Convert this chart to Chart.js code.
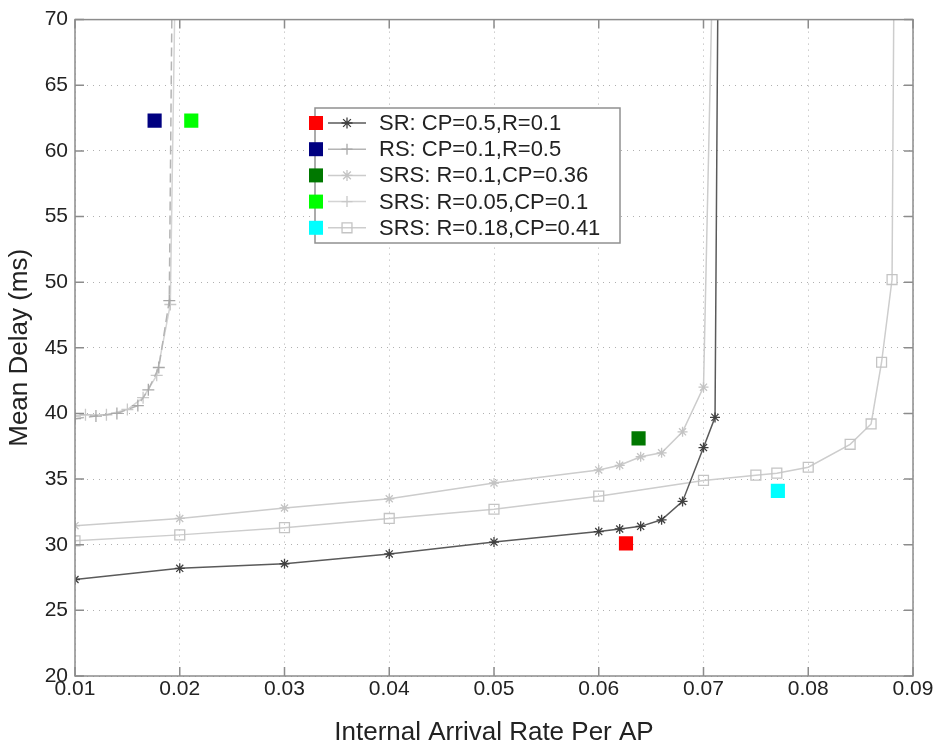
<!DOCTYPE html>
<html>
<head>
<meta charset="utf-8">
<script src="https://cdn.jsdelivr.net/npm/chart.js@4"></script>
<style>
  html, body { margin: 0; padding: 0; background: #fff; }
</style>
</head>
<body>
<canvas id="myChart" width="937" height="747"></canvas>
<script>
// axis ticks
const xTicks = [0.01, 0.02, 0.03, 0.04, 0.05, 0.06, 0.07, 0.08, 0.09];
const yTicks = [20, 25, 30, 35, 40, 45, 50, 55, 60, 65, 70];

// SR: CP=0.5,R=0.1  (asterisk, dark)
const srX = [0.01, 0.02, 0.03, 0.04, 0.05, 0.06, 0.062, 0.064, 0.066, 0.068, 0.07, 0.0711, 0.0714];
const srY = [27.35, 28.2, 28.55, 29.3, 30.2, 31.0, 31.2, 31.4, 31.9, 33.3, 37.4, 39.7, 75];

// RS: CP=0.1,R=0.5  (plus, dashed)
const rsX = [0.01, 0.012, 0.014, 0.016, 0.017, 0.018, 0.019, 0.0193];
const rsY = [39.6, 39.8, 40.0, 40.6, 41.8, 43.5, 48.6, 75];

// SRS: R=0.1,CP=0.36  (asterisk, light)
const srs1X = [0.01, 0.02, 0.03, 0.04, 0.05, 0.06, 0.062, 0.064, 0.066, 0.068, 0.07, 0.0709];
const srs1Y = [31.45, 32.0, 32.8, 33.5, 34.7, 35.7, 36.05, 36.7, 37.0, 38.6, 42.0, 75];

// SRS: R=0.05,CP=0.1  (plus, light)
const srs2X = [0.01, 0.011, 0.013, 0.015, 0.0165, 0.0178, 0.0191, 0.0196];
const srs2Y = [39.8, 39.9, 39.9, 40.3, 41.2, 42.9, 48.3, 75];

// SRS: R=0.18,CP=0.41  (square, light)
const srs3X = [0.01, 0.02, 0.03, 0.04, 0.05, 0.06, 0.07, 0.075, 0.077, 0.08, 0.084, 0.086, 0.087, 0.088, 0.0882];
const srs3Y = [30.3, 30.75, 31.3, 32.0, 32.7, 33.7, 34.9, 35.3, 35.45, 35.9, 37.65, 39.2, 43.9, 50.2, 75];

// single coloured squares
const squareX = [0.0626, 0.0176, 0.0638, 0.0211, 0.0771];
const squareY = [30.1, 62.3, 38.1, 62.3, 34.1];
const squareColors = ["#ff0000", "#000080", "#007800", "#00ff00", "#00ffff"];

const legendNames = [
  "SR: CP=0.5,R=0.1",
  "RS: CP=0.1,R=0.5",
  "SRS: R=0.1,CP=0.36",
  "SRS: R=0.05,CP=0.1",
  "SRS: R=0.18,CP=0.41"
];

const pts = (xs, ys) => xs.map((x, i) => ({ x: x, y: ys[i] }));

const curves = [
  { data: pts(srX, srY), borderColor: "#5a5a5a", pointBorderColor: "#404040", pointStyle: "star", pointRadius: 5, borderWidth: 1.5 },
  { data: pts(rsX, rsY), borderColor: "#b4b4b4", pointBorderColor: "#a8a8a8", pointStyle: "cross", pointRadius: 6, borderDash: [9, 5], borderWidth: 1.5 },
  { data: pts(srs1X, srs1Y), borderColor: "#cccccc", pointBorderColor: "#c4c4c4", pointStyle: "star", pointRadius: 5, borderWidth: 1.5 },
  { data: pts(srs2X, srs2Y), borderColor: "#d4d4d4", pointBorderColor: "#c8c8c8", pointStyle: "cross", pointRadius: 6, borderWidth: 1.5 },
  { data: pts(srs3X, srs3Y), borderColor: "#cdcdcd", pointBorderColor: "#c4c4c4", pointStyle: "rect", pointRadius: 7, borderWidth: 1.5 }
];

const datasets = [];
curves.forEach((c, i) => {
  datasets.push({
    label: legendNames[i],
    data: c.data,
    showLine: true,
    borderColor: c.borderColor,
    borderWidth: c.borderWidth,
    borderDash: c.borderDash || [],
    pointStyle: c.pointStyle,
    pointRadius: c.data.map((p) => (p.y > 70 ? 0 : c.pointRadius)),
    pointBorderColor: c.pointBorderColor,
    pointBackgroundColor: "rgba(0,0,0,0)",
    pointBorderWidth: 1.3,
    tension: 0
  });
});
squareX.forEach((x, i) => {
  datasets.push({
    label: "sq" + i,
    data: [{ x: x, y: squareY[i] }],
    showLine: false,
    pointStyle: "rect",
    pointRadius: 10,
    pointBackgroundColor: squareColors[i],
    pointBorderColor: squareColors[i],
    pointBorderWidth: 0
  });
});

// box round the plot and inward tick marks on all four sides
const frame = {
  id: "frame",
  afterDatasetsDraw(chart) {
    const { ctx, chartArea: a, scales } = chart;
    ctx.save();
    ctx.strokeStyle = "#8c8c8c";
    ctx.lineWidth = 1.5;
    ctx.setLineDash([]);
    ctx.strokeRect(a.left, a.top, a.right - a.left, a.bottom - a.top);
    const len = 9;
    ctx.beginPath();
    xTicks.forEach((v) => {
      const px = scales.x.getPixelForValue(v);
      ctx.moveTo(px, a.bottom); ctx.lineTo(px, a.bottom - len);
      ctx.moveTo(px, a.top); ctx.lineTo(px, a.top + len);
    });
    yTicks.forEach((v) => {
      const py = scales.y.getPixelForValue(v);
      ctx.moveTo(a.left, py); ctx.lineTo(a.left + len, py);
      ctx.moveTo(a.right, py); ctx.lineTo(a.right - len, py);
    });
    ctx.stroke();
    ctx.restore();
  }
};

function marker(ctx, style, x, y, r) {
  ctx.beginPath();
  if (style === "star" || style === "cross") {
    ctx.moveTo(x - r, y); ctx.lineTo(x + r, y);
    ctx.moveTo(x, y - r); ctx.lineTo(x, y + r);
  }
  if (style === "star") {
    const d = r * 0.707;
    ctx.moveTo(x - d, y - d); ctx.lineTo(x + d, y + d);
    ctx.moveTo(x - d, y + d); ctx.lineTo(x + d, y - d);
  }
  if (style === "rect") {
    const s = r * 0.707;
    ctx.rect(x - s, y - s, 2 * s, 2 * s);
  }
  ctx.stroke();
}

// legend: coloured square + line sample + text
const boxLegend = {
  id: "boxLegend",
  afterDraw(chart) {
    const ctx = chart.ctx;
    const left = 315, top = 108, right = 620, bottom = 243;
    const rowY = 123, rowH = 26.2;
    ctx.save();
    ctx.fillStyle = "#fff";
    ctx.fillRect(left, top, right - left, bottom - top);
    ctx.strokeStyle = "#909090";
    ctx.lineWidth = 1.5;
    ctx.strokeRect(left, top, right - left, bottom - top);
    ctx.font = "22px 'Liberation Sans', Arial, sans-serif";
    ctx.textBaseline = "middle";
    legendNames.forEach((name, i) => {
      const y = rowY + i * rowH;
      const ds = chart.data.datasets[i];
      ctx.fillStyle = squareColors[i];
      ctx.fillRect(309, y - 7, 14, 14);
      ctx.strokeStyle = ds.borderColor;
      ctx.lineWidth = 1.5;
      ctx.setLineDash([]);
      ctx.beginPath();
      ctx.moveTo(328, y); ctx.lineTo(366, y);
      ctx.stroke();
      ctx.strokeStyle = ds.pointBorderColor;
      ctx.lineWidth = 1.3;
      marker(ctx, ds.pointStyle, 347, y, ds.pointStyle === "rect" ? 7 : 5.5);
      ctx.fillStyle = "#222";
      ctx.fillText(name, 379, y + 1);
    });
    ctx.restore();
  }
};

const ctx = document.querySelector("#myChart").getContext("2d");

new Chart(ctx, {
  type: "scatter",
  data: { datasets: datasets },
  plugins: [frame, boxLegend],
  options: {
    responsive: false,
    animation: false,
    devicePixelRatio: 1,
    layout: { padding: { left: 0, top: 16, right: 24, bottom: 0 } },
    plugins: {
      legend: { display: false },
      tooltip: { enabled: false }
    },
    scales: {
      x: {
        type: "linear",
        min: 0.01,
        max: 0.09,
        afterBuildTicks: (scale) => { scale.ticks = xTicks.map((v) => ({ value: v })); },
        afterFit: (scale) => { scale.height = 71; },
        ticks: {
          callback: (v) => v.toFixed(2),
          font: { family: "'Liberation Sans', Arial, sans-serif", size: 21 },
          color: "#222",
          padding: 1,
          maxRotation: 0
        },
        grid: { color: "#b0b0b0", lineWidth: 1, drawTicks: false },
        border: { display: false, dash: [1, 5] },
        title: {
          display: true,
          text: "Internal Arrival Rate Per AP",
          font: { family: "'Liberation Sans', Arial, sans-serif", size: 26, lineHeight: 1 },
          color: "#222",
          padding: { top: 0, bottom: 1 }
        }
      },
      y: {
        type: "linear",
        min: 20,
        max: 70,
        afterBuildTicks: (scale) => { scale.ticks = yTicks.map((v) => ({ value: v })); },
        afterFit: (scale) => { scale.width = 75; },
        ticks: {
          font: { family: "'Liberation Sans', Arial, sans-serif", size: 21 },
          color: "#222",
          padding: 7
        },
        grid: { color: "#b0b0b0", lineWidth: 1, drawTicks: false },
        border: { display: false, dash: [1, 5] },
        title: {
          display: true,
          text: "Mean Delay (ms)",
          font: { family: "'Liberation Sans', Arial, sans-serif", size: 26, lineHeight: 1 },
          color: "#222",
          padding: { top: 7, bottom: 0 }
        }
      }
    }
  }
});
</script>
</body>
</html>
